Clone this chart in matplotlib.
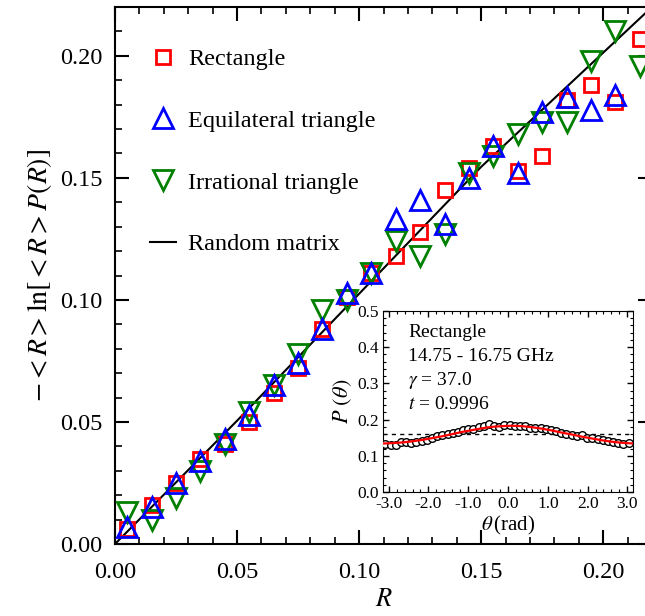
import numpy as np
import matplotlib
matplotlib.use("Agg")
import matplotlib.pyplot as plt
from matplotlib.ticker import MultipleLocator, FormatStrFormatter
from matplotlib.lines import Line2D

plt.rcParams['font.family'] = ['Liberation Serif', 'DejaVu Serif']
plt.rcParams['mathtext.fontset'] = 'stix'
plt.rcParams['axes.unicode_minus'] = False

# main panel data
R = np.arange(0.005, 0.22, 0.01)
rect = [0.006, 0.016, 0.025, 0.035, 0.041, 0.050, 0.062, 0.072, 0.088, 0.101, 0.111,
        0.118, 0.128, 0.145, 0.154, 0.163, 0.153, 0.159, 0.182, 0.188, 0.181, 0.207]
equi = [0.007, 0.015, 0.025, 0.034, 0.043, 0.053, 0.065, 0.074, 0.088, 0.103, 0.111,
        0.133, 0.141, 0.131, 0.150, 0.163, 0.152, 0.177, 0.183, 0.178, 0.184, np.nan]
irr = [0.013, 0.010, 0.019, 0.030, 0.041, 0.054, 0.065, 0.078, 0.096, 0.100, 0.111,
       0.124, 0.118, 0.127, 0.152, 0.159, 0.168, 0.173, 0.173, 0.198, 0.210, 0.196]
rm_R = [0.0, 0.05, 0.10, 0.15, 0.22]
rm_y = [0.0, 0.0505, 0.1025, 0.1545, 0.2200]

# inset data
theta = [-3.08, -2.95, -2.82, -2.69, -2.56, -2.43, -2.30, -2.17, -2.04, -1.91, -1.78, -1.65,
         -1.52, -1.39, -1.26, -1.13, -1.00, -0.87, -0.74, -0.61, -0.48, -0.35, -0.22, -0.09,
         0.04, 0.17, 0.30, 0.43, 0.56, 0.69, 0.82, 0.95, 1.08, 1.21, 1.34, 1.47,
         1.60, 1.73, 1.86, 1.99, 2.12, 2.25, 2.38, 2.51, 2.64, 2.77, 2.90, 3.03]
p_theta = [0.132, 0.131, 0.130, 0.137, 0.139, 0.134, 0.139, 0.141, 0.143, 0.150, 0.155, 0.158,
           0.160, 0.163, 0.166, 0.170, 0.174, 0.173, 0.180, 0.183, 0.187, 0.181, 0.180, 0.184,
           0.185, 0.183, 0.181, 0.182, 0.178, 0.176, 0.177, 0.174, 0.172, 0.169, 0.164, 0.160,
           0.158, 0.154, 0.157, 0.150, 0.149, 0.147, 0.144, 0.141, 0.139, 0.136, 0.133, 0.135]
fit_theta = [-3.14, -2.9, -2.65, -2.4, -2.15, -1.9, -1.65, -1.4, -1.15, -0.9, -0.65, -0.4, -0.15,
             0.1, 0.35, 0.6, 0.85, 1.1, 1.35, 1.6, 1.85, 2.1, 2.35, 2.6, 2.85, 3.14]
fit_p = [0.134, 0.135, 0.137, 0.140, 0.144, 0.149, 0.154, 0.160, 0.166, 0.171, 0.176, 0.180, 0.182,
         0.183, 0.182, 0.179, 0.175, 0.170, 0.164, 0.159, 0.153, 0.148, 0.143, 0.139, 0.136, 0.134]
uniform = 1 / (2 * np.pi)

fig = plt.figure(figsize=(6.45, 6.16), dpi=100)
ax = fig.add_axes([115/645, 72/616, 537/645, 537/616])

ax.plot(rm_R, rm_y, color='black', lw=1.5, zorder=2)
ax.plot(R, rect, ls='none', marker='s', ms=10, mfc='none', mec='red', mew=2, zorder=3)
ax.plot(R, irr, ls='none', marker='v', ms=14, mfc='none', mec='green', mew=2, zorder=3)
ax.plot(R, equi, ls='none', marker='^', ms=14, mfc='none', mec='blue', mew=2, zorder=4)

ax.set_xlim(0, 0.22)
ax.set_ylim(0, 0.22)
for a in (ax.xaxis, ax.yaxis):
    a.set_major_locator(MultipleLocator(0.05))
    a.set_minor_locator(MultipleLocator(0.01))
    a.set_major_formatter(FormatStrFormatter('%.2f'))
ax.tick_params(which='both', direction='in', top=True, right=True, labelsize=17.5)
ax.tick_params(which='major', length=10, width=1.5, pad=9)
ax.tick_params(axis='x', which='major', pad=13)
ax.tick_params(which='minor', length=5, width=1.2)
for s in ax.spines.values():
    s.set_linewidth(1.5)
ax.set_xlabel(r'$R$', fontsize=19, labelpad=4)
ax.set_ylabel(r'$-<R>\ln[<R>P(R)]$', fontsize=20, labelpad=4)

handles = [
    Line2D([], [], ls='none', marker='s', ms=10, mfc='none', mec='red', mew=2),
    Line2D([], [], ls='none', marker='^', ms=14, mfc='none', mec='blue', mew=2),
    Line2D([], [], ls='none', marker='v', ms=14, mfc='none', mec='green', mew=2),
    Line2D([], [], color='black', lw=1.5),
]
labels = ['Rectangle', 'Equilateral triangle', 'Irrational triangle', 'Random matrix']
ax.legend(handles, labels, loc='upper left', bbox_to_anchor=(0.066, 0.923), frameon=False,
          fontsize=17.5, handlelength=1.05, handletextpad=0.5, labelspacing=1.63,
          borderpad=0, borderaxespad=0)

# inset
ins = fig.add_axes([383/645, 124/616, 250/645, 181/616])
ins.axhline(uniform, color='black', ls=(0, (3, 3)), lw=1)
ins.plot(theta, p_theta, ls='none', marker='o', ms=5.5, mfc='white', mec='black', mew=1, zorder=3)
ins.plot(fit_theta, fit_p, color='red', lw=1.6, zorder=4)
ins.set_xlim(-np.pi, np.pi)
ins.set_ylim(0, 0.5)
ins.xaxis.set_major_locator(MultipleLocator(1.0))
ins.xaxis.set_minor_locator(MultipleLocator(0.2))
ins.yaxis.set_major_locator(MultipleLocator(0.1))
ins.yaxis.set_minor_locator(MultipleLocator(0.02))
ins.xaxis.set_major_formatter(FormatStrFormatter('%.1f'))
ins.yaxis.set_major_formatter(FormatStrFormatter('%.1f'))
ins.tick_params(which='both', direction='in', top=True, right=True, labelsize=12.5)
ins.tick_params(which='major', length=4, width=1, pad=3)
ins.tick_params(which='minor', length=2, width=0.8)
ins.set_xlabel(r'$\theta\,$(rad)', fontsize=15, labelpad=1)
ins.set_ylabel(r'$P\ (\theta)$', fontsize=16, labelpad=2)
info = ['Rectangle', '14.75 - 16.75 GHz', r'$\gamma$ = 37.0', r'$t$ = 0.9996']
for i, s in enumerate(info):
    ins.text(0.1, 0.88 - i * 0.133, s, transform=ins.transAxes, fontsize=14, va='center')

fig.savefig('out.png', dpi=100)
